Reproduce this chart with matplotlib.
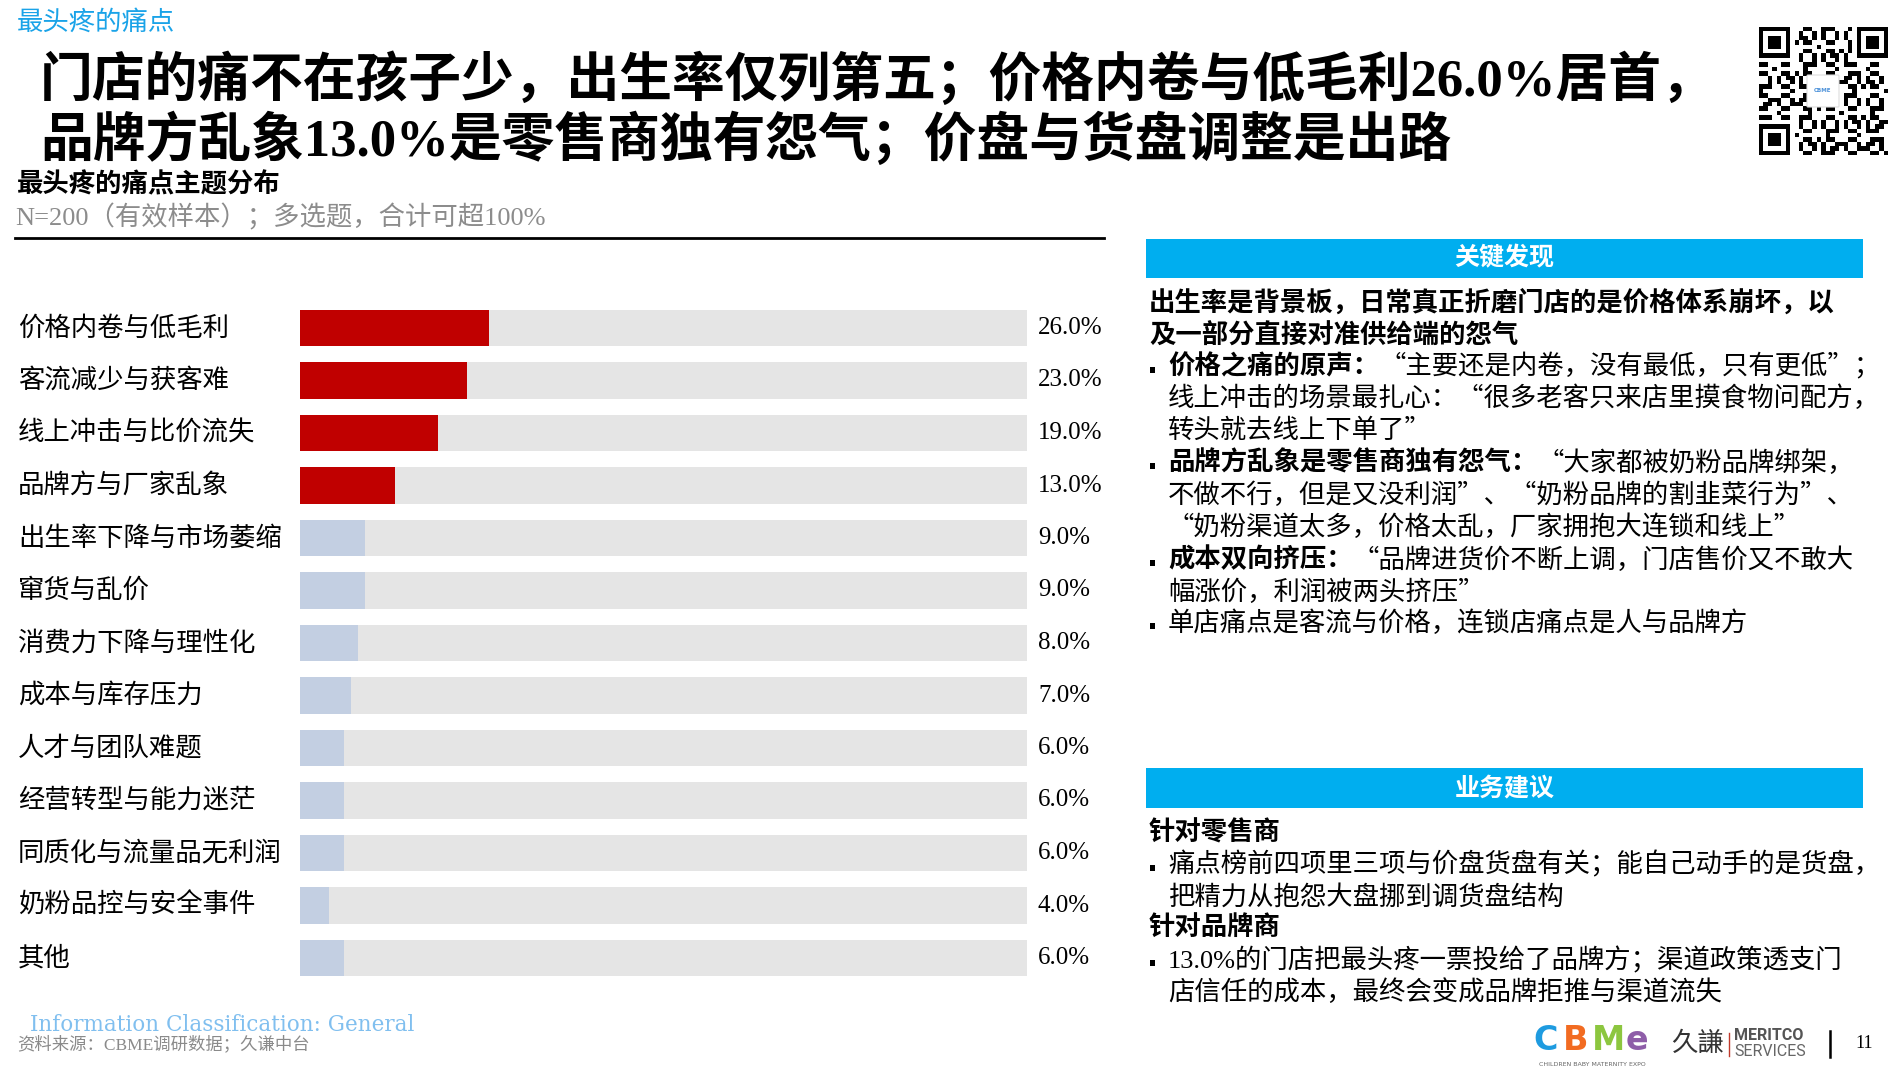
import numpy as np
import matplotlib
matplotlib.use('Agg')
import matplotlib.pyplot as plt
from matplotlib.transforms import Affine2D, blended_transform_factory
from matplotlib.patches import Rectangle, FancyBboxPatch

CJK = 'Noto Sans CJK SC'
SERIF = 'Liberation Serif'

# ---------------- data ----------------
categories = ["价格内卷与低毛利", "客流减少与获客难", "线上冲击与比价流失", "品牌方与厂家乱象",
              "出生率下降与市场萎缩", "窜货与乱价", "消费力下降与理性化", "成本与库存压力",
              "人才与团队难题", "经营转型与能力迷茫", "同质化与流量品无利润", "奶粉品控与安全事件", "其他"]
values = [26.0, 23.0, 19.0, 13.0, 9.0, 9.0, 8.0, 7.0, 6.0, 6.0, 6.0, 4.0, 6.0]
track_max = 100.0
highlight_count = 4

eyebrow = "最头疼的痛点"
title_lines = ["门店的痛不在孩子少，出生率仅列第五；价格内卷与低毛利26.0%居首，",
               "品牌方乱象13.0%是零售商独有怨气；价盘与货盘调整是出路"]
chart_title = "最头疼的痛点主题分布"
chart_note = "N=200（有效样本）；多选题，合计可超100%"
source_note = "资料来源：CBME调研数据；久谦中台"
info_note = "Information Classification: General"

RED = '#C00000'
LIGHT = '#C3CFE2'
TRACK = '#E5E5E5'
BLUE = '#00AEEF'

W, H = 1900, 1079
fig = plt.figure(figsize=(W / 100, H / 100), dpi=100)
px = Affine2D().scale(1 / W, -1 / H).translate(0, 1) + fig.transFigure


def T(x, y, s, size, color='black', weight='normal', family=(CJK, SERIF), ha='left', va='center', **kw):
    return fig.text(x, y, s, transform=px, fontsize=size, color=color, fontweight=weight,
                    family=list(family), ha=ha, va=va, **kw)


# ---------------- header ----------------
T(17, 22, eyebrow, 19, color='#1AA3E8')
T(40, 80, title_lines[0], 38, weight='bold', family=(SERIF, CJK))
T(40, 140, title_lines[1], 38, weight='bold', family=(SERIF, CJK))
T(17, 185, chart_title, 19, weight='bold')
T(15, 217, chart_note, 19, color='#8C8C8C', family=(SERIF, CJK))
fig.add_artist(plt.Line2D([15, 1104], [238, 238], transform=px, color='black', lw=2))

# ---------------- bar chart ----------------
row0, step = 328.0, 52.5
n = len(categories)
top = row0 - step / 2
bottom = row0 + (n - 1) * step + step / 2
ax = fig.add_axes([300 / W, 1 - bottom / H, 727 / W, (bottom - top) / H])
ax.set_xlim(0, track_max)
ax.set_ylim(n - 0.5, -0.5)
ax.axis('off')
ypos = np.arange(n)
bh = 0.69
ax.barh(ypos, [track_max] * n, height=bh, color=TRACK, linewidth=0)
colors = [RED if i < highlight_count else LIGHT for i in range(n)]
ax.barh(ypos, values, height=bh, color=colors, linewidth=0)
lab_tr = blended_transform_factory(px, ax.transData)
for i, (c, v) in enumerate(zip(categories, values)):
    ax.text(18, i, c, transform=lab_tr, fontsize=19, family=[CJK], ha='left', va='center')
    ax.text(1038, i, f"{v:.1f}%", transform=lab_tr, fontsize=18, family=[SERIF], ha='left', va='center')

# ---------------- right panel ----------------
BS = 19
EM = BS * 100 / 72


def box(y0, y1, label):
    fig.add_artist(Rectangle((1146, y0), 1863 - 1146, y1 - y0, transform=px, color=BLUE, lw=0))
    T((1146 + 1863) / 2, (y0 + y1) / 2, label, 18, color='white', weight='bold', ha='center')


def bullet(y):
    fig.add_artist(Rectangle((1150, y - 2), 5, 6, transform=px, color='black', lw=0))


def line(y, bold='', rest='', x=1168, family=(CJK, SERIF)):
    if bold:
        T(x, y, bold, BS, weight='bold', family=family)
        x += len(bold) * EM
    if rest:
        T(x, y, rest, BS, family=family)


box(239, 278, "关键发现")
T(1149, 303, "出生率是背景板，日常真正折磨门店的是价格体系崩坏，以", BS, weight='bold')
T(1149, 336, "及一部分直接对准供给端的怨气", BS, weight='bold')
bullet(369)
line(367, "价格之痛的原声：", "“主要还是内卷，没有最低，只有更低”；")
line(398, rest="线上冲击的场景最扎心：“很多老客只来店里摸食物问配方，")
line(430, rest="转头就去线上下单了”")
bullet(465)
line(463, "品牌方乱象是零售商独有怨气：", "“大家都被奶粉品牌绑架，")
line(495, rest="不做不行，但是又没利润”、“奶粉品牌的割韭菜行为”、")
line(527, rest="“奶粉渠道太多，价格太乱，厂家拥抱大连锁和线上”")
bullet(562)
line(560, "成本双向挤压：", "“品牌进货价不断上调，门店售价又不敢大")
line(592, rest="幅涨价，利润被两头挤压”")
bullet(625)
line(623, rest="单店痛点是客流与价格，连锁店痛点是人与品牌方")

box(768, 808, "业务建议")
T(1149, 833, "针对零售商", BS, weight='bold')
bullet(867)
line(865, rest="痛点榜前四项里三项与价盘货盘有关；能自己动手的是货盘，")
line(897, rest="把精力从抱怨大盘挪到调货盘结构")
T(1149, 928, "针对品牌商", BS, weight='bold')
bullet(962)
line(960, rest="13.0%的门店把最头疼一票投给了品牌方；渠道政策透支门", family=(SERIF, CJK))
line(992, rest="店信任的成本，最终会变成品牌拒推与渠道流失")

# ---------------- QR code (decorative) ----------------
N = 29
qr = np.zeros((N, N))
r, c = np.indices((N, N))
qr[((r * 7 + c * 11 + r * c) % 5) < 2] = 1
qr[((r * 3 + c * 5) % 7) == 0] = 1
for (r0, c0) in [(0, 0), (0, N - 7), (N - 7, 0)]:
    rr0, rr1 = max(r0 - 1, 0), min(r0 + 8, N)
    cc0, cc1 = max(c0 - 1, 0), min(c0 + 8, N)
    qr[rr0:rr1, cc0:cc1] = 0
    qr[r0:r0 + 7, c0:c0 + 7] = 1
    qr[r0 + 1:r0 + 6, c0 + 1:c0 + 6] = 0
    qr[r0 + 2:r0 + 5, c0 + 2:c0 + 5] = 1
qax = fig.add_axes([1759 / W, 1 - 155 / H, 129 / W, 128 / H])
qax.imshow(qr, cmap='gray_r', interpolation='nearest', aspect='auto')
qax.axis('off')
fig.add_artist(FancyBboxPatch((1808, 76), 30, 30, boxstyle='round,pad=1', transform=px,
                              fc='white', ec='#DDDDDD', lw=0.8))
T(1823, 91, "CBME", 4, color='#4A90D9', family=('DejaVu Sans',), ha='center', weight='bold')

# ---------------- footer ----------------
T(30, 1025, info_note, 15.5, color='#80BFEF', family=('DejaVu Serif',))
T(17, 1044, source_note, 12.5, color='#8A8A8A', family=(SERIF, CJK))

for ch, x, col in [("C", 1533, '#1E9BE0'), ("B", 1563, '#F26B21'), ("M", 1592, '#8CC63F'), ("e", 1626, '#8E5DA8')]:
    T(x, 1040, ch, 24, color=col, weight='bold', family=('DejaVu Sans',))
T(1592, 1064, "CHILDREN BABY MATERNITY EXPO", 4.5, color='#666666', family=('DejaVu Sans',), ha='center')
T(1671, 1043, "久謙", 19, color='#333333', family=('Noto Sans CJK TC',))
fig.add_artist(plt.Line2D([1729, 1729], [1033, 1056], transform=px, color='#C0392B', lw=1))
T(1734, 1036, "MERITCO", 11.5, color='#555555', family=('Roboto',), weight='bold')
T(1734, 1052, "SERVICES", 11.5, color='#666666', family=('Roboto',))
fig.add_artist(plt.Line2D([1830, 1830], [1031, 1057], transform=px, color='black', lw=1.8))
T(1855, 1043, "11", 13, family=(SERIF,))

fig.savefig('out.png', dpi=100)
